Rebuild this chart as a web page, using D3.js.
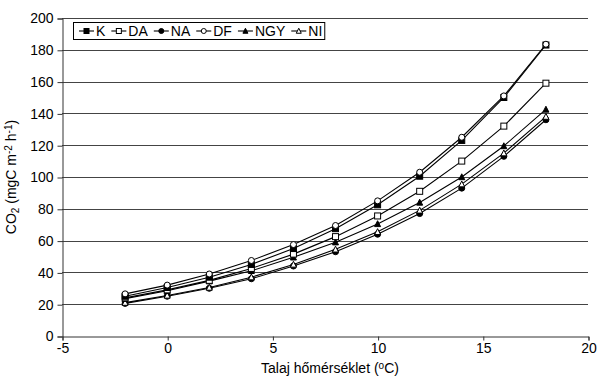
<!DOCTYPE html>
<html lang="hu">
<head>
<meta charset="UTF-8">
<title>CO2 - talajhőmérséklet</title>
<script src="https://d3js.org/d3.v7.min.js"></script>
<style>
    body { margin: 0; background: #fff; font-family: "Liberation Sans", Arial, sans-serif; }
    svg text { font-family: "Liberation Sans", Arial, sans-serif; fill: #000; }
    .line { fill: none; stroke: #000; stroke-width: 1.1; }
    .grid line { stroke: #444; stroke-width: 1; }
</style>
</head>
<body>
<svg id="chart" width="597" height="380"></svg>
<script>
    // talajhőmérséklet (°C)
    const temps = [-2, 0, 2, 4, 6, 8, 10, 12, 14, 16, 18];

    const K   = [25, 30.5, 37, 45, 55, 67.5, 82.5, 100.5, 123, 150, 183];
    const DA  = [24, 29, 35, 42.5, 51.5, 62.5, 75.5, 91, 110, 132, 159];
    const NA  = [20.5, 25, 30, 36, 44, 53, 64, 77, 93, 113, 136];
    const DF  = [26.5, 32, 39, 47.5, 57.5, 69.5, 85, 103, 125, 151, 183.5];
    const NGY = [23.5, 28.5, 34.5, 41, 49.5, 59, 70.5, 84, 100, 119.5, 142.5];
    const NI  = [21, 25.5, 30.5, 37, 45, 54.5, 65.5, 79, 95.5, 115, 138];

    const seriesNames = ["K", "DA", "NA", "DF", "NGY", "NI"];
    const seriesValues = { K, DA, NA, DF, NGY, NI };
    const markerType = { K: "sqFill", DA: "sqOpen", NA: "cirFill", DF: "cirOpen", NGY: "triFill", NI: "triOpen" };

    const xTicks = [-5, 0, 5, 10, 15, 20];
    const yTicks = [0, 20, 40, 60, 80, 100, 120, 140, 160, 180, 200];

    const svg = d3.select("#chart");
    const plot = { left: 62, right: 588, top: 18, bottom: 336 };

    const x = d3.scaleLinear().domain([-5, 20]).range([plot.left, plot.right]);
    const y = d3.scaleLinear().domain([0, 200]).range([plot.bottom, plot.top]);

    // gridlines
    svg.append("g").attr("class", "grid")
        .selectAll("line").data(yTicks.filter(d => d > 0)).join("line")
        .attr("x1", plot.left).attr("x2", plot.right)
        .attr("y1", d => Math.round(y(d)) + 0.5).attr("y2", d => Math.round(y(d)) + 0.5);

    // axes
    const yAxis = svg.append("g")
        .attr("transform", `translate(${plot.left + 0.5},0.5)`)
        .call(d3.axisLeft(y).tickValues(yTicks).tickSize(5).tickPadding(4));
    const xAxis = svg.append("g")
        .attr("transform", `translate(0.5,${plot.bottom + 0.5})`)
        .call(d3.axisBottom(x).tickValues(xTicks).tickSize(4).tickPadding(3).tickFormat(d => d));
    [yAxis, xAxis].forEach(a => {
        a.select(".domain").attr("stroke", "#333");
        a.selectAll(".tick line").attr("stroke", "#333");
        a.selectAll(".tick text").style("font-size", "14px").attr("fill", "#000");
    });

    // markers
    function drawMarker(g, type, size) {
        const s = size;
        if (type === "sqFill" || type === "sqOpen") {
            g.append("rect").attr("x", -s / 2).attr("y", -s / 2).attr("width", s).attr("height", s)
                .attr("fill", type === "sqFill" ? "#000" : "#fff").attr("stroke", "#000").attr("stroke-width", 1);
        } else if (type === "cirFill" || type === "cirOpen") {
            g.append("circle").attr("r", s / 2)
                .attr("fill", type === "cirFill" ? "#000" : "#fff").attr("stroke", "#000").attr("stroke-width", 1);
        } else {
            const h = s * 0.9;
            g.append("path").attr("d", `M0,${-h / 2 - 0.5}L${s / 2},${h / 2}L${-s / 2},${h / 2}Z`)
                .attr("fill", type === "triFill" ? "#000" : "#fff").attr("stroke", "#000").attr("stroke-width", 1);
        }
    }

    const line = d3.line().x(d => x(d.t)).y(d => y(d.v));
    // draw in order so the top pair ends up visible like the original
    const drawOrder = ["NA", "NI", "NGY", "DA", "K", "DF"];
    drawOrder.forEach(name => {
        const data = temps.map((t, i) => ({ t, v: seriesValues[name][i] }));
        svg.append("path").datum(data).attr("class", "line").attr("d", line);
    });
    drawOrder.forEach(name => {
        const data = temps.map((t, i) => ({ t, v: seriesValues[name][i] }));
        svg.append("g").selectAll("g").data(data).join("g")
            .attr("transform", d => `translate(${x(d.t)},${y(d.v)})`)
            .each(function () { drawMarker(d3.select(this), markerType[name], 6); });
    });

    // legend
    const legend = svg.append("g");
    const box = legend.append("rect").attr("x", 73.5).attr("y", 22.5).attr("height", 17)
        .attr("fill", "#fff").attr("stroke", "#000").attr("stroke-width", 1);
    let lx = 79;
    const ly = 31;
    seriesNames.forEach(name => {
        legend.append("line").attr("x1", lx).attr("x2", lx + 15).attr("y1", ly).attr("y2", ly)
            .attr("stroke", "#000").attr("stroke-width", 1.1);
        const m = legend.append("g").attr("transform", `translate(${lx + 7.5},${ly})`);
        drawMarker(m, markerType[name], 5);
        const t = legend.append("text").attr("x", lx + 17).attr("y", ly + 5)
            .style("font-size", "14px").text(name);
        lx += 17 + t.node().getComputedTextLength() + 6;
    });
    box.attr("width", lx - 73 - 4);

    // axis titles
    const yt = svg.append("text")
        .attr("transform", `translate(16,${(plot.top + plot.bottom) / 2}) rotate(-90)`)
        .attr("text-anchor", "middle").style("font-size", "14px");
    yt.append("tspan").text("CO");
    yt.append("tspan").attr("baseline-shift", "-25%").style("font-size", "10px").text("2");
    yt.append("tspan").text(" (mgC m");
    yt.append("tspan").attr("baseline-shift", "40%").style("font-size", "10px").text("-2");
    yt.append("tspan").text(" h");
    yt.append("tspan").attr("baseline-shift", "40%").style("font-size", "10px").text("-1");
    yt.append("tspan").text(")");

    const xt = svg.append("text")
        .attr("x", 330).attr("y", 373)
        .attr("text-anchor", "middle").style("font-size", "14px");
    xt.append("tspan").text("Talaj hőmérséklet (");
    xt.append("tspan").attr("baseline-shift", "40%").style("font-size", "10px").text("o");
    xt.append("tspan").text("C)");
</script>
</body>
</html>
